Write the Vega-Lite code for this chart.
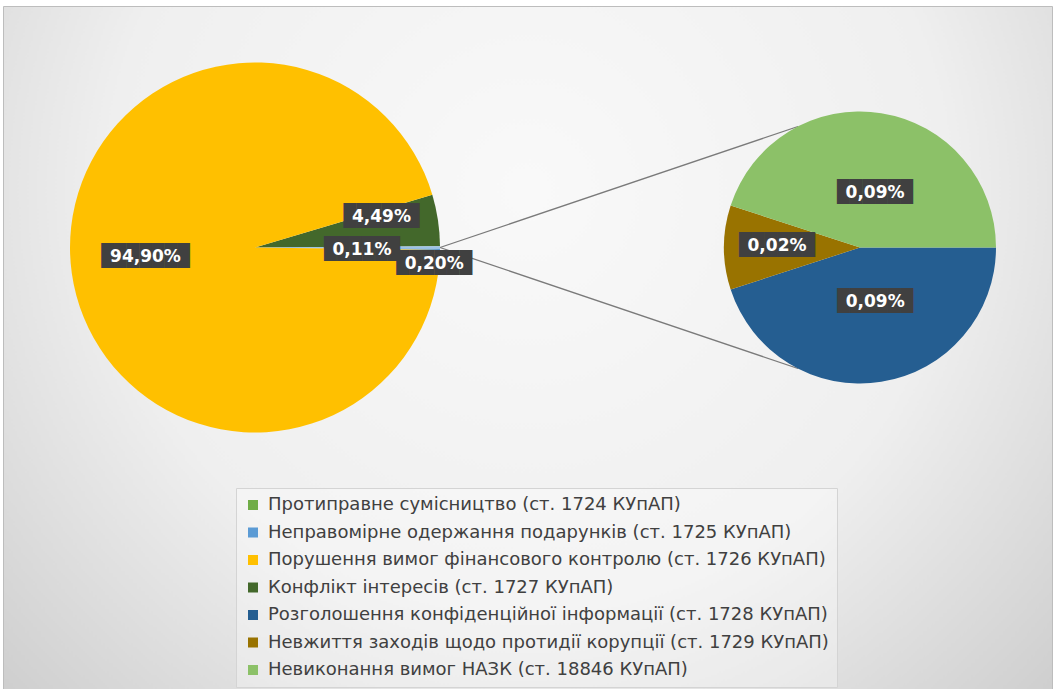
{
  "$schema": "https://vega.github.io/schema/vega-lite/v6.json",
  "width": 1049,
  "height": 683,
  "autosize": "none",
  "padding": {"left": 3, "top": 6, "right": 3, "bottom": 0},
  "background": "#ffffff",
  "config": {
    "view": {
      "fill": {"gradient": "radial", "x1": 0.5, "y1": 0.35, "r1": 0, "x2": 0.5, "y2": 0.35, "r2": 0.8,
        "stops": [{"offset": 0, "color": "#f9f9f9"}, {"offset": 0.5, "color": "#efefef"}, {"offset": 1, "color": "#c2c2c2"}]},
      "stroke": "#bdbdbd",
      "strokeWidth": 1
    }
  },
  "datasets": {
    "shares": [
      {"pie": "main", "seq": 1, "cat": "Конфлікт інтересів (ст. 1727 КУпАП)", "share": 4.49, "label": "4,49%"},
      {"pie": "main", "seq": 2, "cat": "Інші", "share": 0.20, "label": "0,20%"},
      {"pie": "main", "seq": 3, "cat": "Протиправне сумісництво (ст. 1724 КУпАП)", "share": 0, "label": ""},
      {"pie": "main", "seq": 4, "cat": "Неправомірне одержання подарунків (ст. 1725 КУпАП)", "share": 0.11, "label": "0,11%"},
      {"pie": "main", "seq": 5, "cat": "Порушення вимог фінансового контролю (ст. 1726 КУпАП)", "share": 94.90, "label": "94,90%"},
      {"pie": "sub", "seq": 1, "cat": "Розголошення конфіденційної інформації (ст. 1728 КУпАП)", "share": 0.09, "label": "0,09%"},
      {"pie": "sub", "seq": 2, "cat": "Невжиття заходів щодо протидії корупції (ст. 1729 КУпАП)", "share": 0.02, "label": "0,02%"},
      {"pie": "sub", "seq": 3, "cat": "Невиконання вимог НАЗК (ст. 18846 КУпАП)", "share": 0.09, "label": "0,09%"}
    ],
    "connectors": [{"from": "main", "to": "sub", "edge": "top"}, {"from": "main", "to": "sub", "edge": "bottom"}]
  },
  "resolve": {"scale": {"theta": "independent"}},
  "layer": [
    {
      "data": {"name": "connectors"},
      "transform": [{"filter": "datum.edge == 'top'"}],
      "mark": {"type": "rule", "color": "#7a7a7a", "strokeWidth": 1.3, "xOffset": 185, "x2Offset": -62, "y2Offset": -121},
      "encoding": {
        "x": {"field": "from", "type": "nominal", "scale": {"type": "point", "domain": ["main", "sub"], "range": [252, 857], "padding": 0}, "axis": null},
        "x2": {"field": "to"},
        "y": {"field": "from", "type": "nominal", "scale": {"type": "point", "domain": ["main", "sub"], "range": [241.5, 241.5], "padding": 0}, "axis": null},
        "y2": {"field": "to"}
      }
    },
    {
      "data": {"name": "connectors"},
      "transform": [{"filter": "datum.edge == 'bottom'"}],
      "mark": {"type": "rule", "color": "#7a7a7a", "strokeWidth": 1.3, "xOffset": 185, "x2Offset": -62, "y2Offset": 121},
      "encoding": {
        "x": {"field": "from", "type": "nominal", "scale": {"type": "point", "domain": ["main", "sub"], "range": [252, 857], "padding": 0}, "axis": null},
        "x2": {"field": "to"},
        "y": {"field": "from", "type": "nominal", "scale": {"type": "point", "domain": ["main", "sub"], "range": [241.5, 241.5], "padding": 0}, "axis": null},
        "y2": {"field": "to"}
      }
    },
    {
      "data": {"name": "shares"},
      "transform": [{"filter": "datum.pie == 'main'"}],
      "encoding": {
        "x": {"field": "pie", "type": "nominal", "scale": {"type": "point", "domain": ["main", "sub"], "range": [252, 857], "padding": 0}, "axis": null},
        "y": {"field": "pie", "type": "nominal", "scale": {"type": "point", "domain": ["main", "sub"], "range": [241.5, 241.5], "padding": 0}, "axis": null},
        "theta": {"field": "share", "type": "quantitative", "stack": true, "scale": {"domain": [0, 99.7], "range": [1.28153, 7.56472], "zero": true, "nice": false}},
        "order": {"field": "seq", "type": "quantitative"}
      },
      "layer": [
        {
          "mark": {"type": "arc", "outerRadius": 185},
          "encoding": {
            "color": {"field": "cat", "type": "nominal",
              "scale": {"domain": ["Протиправне сумісництво (ст. 1724 КУпАП)", "Неправомірне одержання подарунків (ст. 1725 КУпАП)", "Порушення вимог фінансового контролю (ст. 1726 КУпАП)", "Конфлікт інтересів (ст. 1727 КУпАП)", "Розголошення конфіденційної інформації (ст. 1728 КУпАП)", "Невжиття заходів щодо протидії корупції (ст. 1729 КУпАП)", "Невиконання вимог НАЗК (ст. 18846 КУпАП)", "Інші"],
                "range": ["#70AD47", "#5B9BD5", "#FFC000", "#43682B", "#255E91", "#997300", "#8CC168", "#9DC3E6"]},
              "legend": {"title": null, "orient": "none", "legendX": 233, "legendY": 482, "direction": "vertical",
                "values": ["Протиправне сумісництво (ст. 1724 КУпАП)", "Неправомірне одержання подарунків (ст. 1725 КУпАП)", "Порушення вимог фінансового контролю (ст. 1726 КУпАП)", "Конфлікт інтересів (ст. 1727 КУпАП)", "Розголошення конфіденційної інформації (ст. 1728 КУпАП)", "Невжиття заходів щодо протидії корупції (ст. 1729 КУпАП)", "Невиконання вимог НАЗК (ст. 18846 КУпАП)"],
                "symbolType": "square", "symbolSize": 100, "symbolStrokeWidth": 0, "labelFont": "DejaVu Sans", "labelFontSize": 18, "labelColor": "#404040", "labelLimit": 800, "labelOffset": 6, "rowPadding": 9.5, "padding": 8, "fillColor": "rgba(255,255,255,0.3)", "strokeColor": "#d4d4d4"}}
          }
        },
        {"mark": {"type": "text", "radius": 130, "thetaOffset": -0.086, "font": "DejaVu Sans Mono", "fontSize": 21, "color": "#404040", "align": "center", "baseline": "middle"},
         "encoding": {"detail": {"field": "cat", "type": "nominal"}, "text": {"condition": {"test": "datum.seq == 1", "value": "██████"}, "value": ""}}},
        {"mark": {"type": "text", "radius": 130, "thetaOffset": -0.086, "font": "DejaVu Sans", "fontWeight": "bold", "fontSize": 17, "color": "#ffffff", "align": "center", "baseline": "middle"},
         "encoding": {"detail": {"field": "cat", "type": "nominal"}, "text": {"condition": {"test": "datum.seq == 1", "field": "label"}, "value": ""}}},
        {"mark": {"type": "text", "radius": 107, "thetaOffset": 0.009, "font": "DejaVu Sans Mono", "fontSize": 21, "color": "#404040", "align": "center", "baseline": "middle"},
         "encoding": {"detail": {"field": "cat", "type": "nominal"}, "text": {"condition": {"test": "datum.seq == 4", "value": "██████"}, "value": ""}}},
        {"mark": {"type": "text", "radius": 107, "thetaOffset": 0.009, "font": "DejaVu Sans", "fontWeight": "bold", "fontSize": 17, "color": "#ffffff", "align": "center", "baseline": "middle"},
         "encoding": {"detail": {"field": "cat", "type": "nominal"}, "text": {"condition": {"test": "datum.seq == 4", "field": "label"}, "value": ""}}},
        {"mark": {"type": "text", "radius": 180, "thetaOffset": 0.094, "font": "DejaVu Sans Mono", "fontSize": 21, "color": "#404040", "align": "center", "baseline": "middle"},
         "encoding": {"detail": {"field": "cat", "type": "nominal"}, "text": {"condition": {"test": "datum.seq == 2", "value": "██████"}, "value": ""}}},
        {"mark": {"type": "text", "radius": 180, "thetaOffset": 0.094, "font": "DejaVu Sans", "fontWeight": "bold", "fontSize": 17, "color": "#ffffff", "align": "center", "baseline": "middle"},
         "encoding": {"detail": {"field": "cat", "type": "nominal"}, "text": {"condition": {"test": "datum.seq == 2", "field": "label"}, "value": ""}}},
        {"mark": {"type": "text", "radius": 110, "thetaOffset": 0.047, "font": "DejaVu Sans Mono", "fontSize": 21, "color": "#404040", "align": "center", "baseline": "middle"},
         "encoding": {"detail": {"field": "cat", "type": "nominal"}, "text": {"condition": {"test": "datum.seq == 5", "value": "███████"}, "value": ""}}},
        {"mark": {"type": "text", "radius": 110, "thetaOffset": 0.047, "font": "DejaVu Sans", "fontWeight": "bold", "fontSize": 17, "color": "#ffffff", "align": "center", "baseline": "middle"},
         "encoding": {"detail": {"field": "cat", "type": "nominal"}, "text": {"condition": {"test": "datum.seq == 5", "field": "label"}, "value": ""}}}
      ]
    },
    {
      "data": {"name": "shares"},
      "transform": [{"filter": "datum.pie == 'sub'"}],
      "encoding": {
        "x": {"field": "pie", "type": "nominal", "scale": {"type": "point", "domain": ["main", "sub"], "range": [252, 857], "padding": 0}, "axis": null},
        "y": {"field": "pie", "type": "nominal", "scale": {"type": "point", "domain": ["main", "sub"], "range": [241.5, 241.5], "padding": 0}, "axis": null},
        "theta": {"field": "share", "type": "quantitative", "stack": true, "scale": {"domain": [0, 0.2], "range": [1.5708, 7.85398], "zero": true, "nice": false}},
        "order": {"field": "seq", "type": "quantitative"}
      },
      "layer": [
        {
          "mark": {"type": "arc", "outerRadius": 136},
          "encoding": {
            "color": {"field": "cat", "type": "nominal",
              "scale": {"domain": ["Протиправне сумісництво (ст. 1724 КУпАП)", "Неправомірне одержання подарунків (ст. 1725 КУпАП)", "Порушення вимог фінансового контролю (ст. 1726 КУпАП)", "Конфлікт інтересів (ст. 1727 КУпАП)", "Розголошення конфіденційної інформації (ст. 1728 КУпАП)", "Невжиття заходів щодо протидії корупції (ст. 1729 КУпАП)", "Невиконання вимог НАЗК (ст. 18846 КУпАП)", "Інші"],
                "range": ["#70AD47", "#5B9BD5", "#FFC000", "#43682B", "#255E91", "#997300", "#8CC168", "#9DC3E6"]}}
          }
        },
        {"mark": {"type": "text", "radius": 57, "thetaOffset": -0.113, "font": "DejaVu Sans Mono", "fontSize": 21, "color": "#404040", "align": "center", "baseline": "middle"},
         "encoding": {"detail": {"field": "cat", "type": "nominal"}, "text": {"condition": {"test": "datum.seq == 1", "value": "██████"}, "value": ""}}},
        {"mark": {"type": "text", "radius": 57, "thetaOffset": -0.113, "font": "DejaVu Sans", "fontWeight": "bold", "fontSize": 17, "color": "#ffffff", "align": "center", "baseline": "middle"},
         "encoding": {"detail": {"field": "cat", "type": "nominal"}, "text": {"condition": {"test": "datum.seq == 1", "field": "label"}, "value": ""}}},
        {"mark": {"type": "text", "radius": 83, "thetaOffset": 0.024, "font": "DejaVu Sans Mono", "fontSize": 21, "color": "#404040", "align": "center", "baseline": "middle"},
         "encoding": {"detail": {"field": "cat", "type": "nominal"}, "text": {"condition": {"test": "datum.seq == 2", "value": "██████"}, "value": ""}}},
        {"mark": {"type": "text", "radius": 83, "thetaOffset": 0.024, "font": "DejaVu Sans", "fontWeight": "bold", "fontSize": 17, "color": "#ffffff", "align": "center", "baseline": "middle"},
         "encoding": {"detail": {"field": "cat", "type": "nominal"}, "text": {"condition": {"test": "datum.seq == 2", "field": "label"}, "value": ""}}},
        {"mark": {"type": "text", "radius": 57, "thetaOffset": 0.11, "font": "DejaVu Sans Mono", "fontSize": 21, "color": "#404040", "align": "center", "baseline": "middle"},
         "encoding": {"detail": {"field": "cat", "type": "nominal"}, "text": {"condition": {"test": "datum.seq == 3", "value": "██████"}, "value": ""}}},
        {"mark": {"type": "text", "radius": 57, "thetaOffset": 0.11, "font": "DejaVu Sans", "fontWeight": "bold", "fontSize": 17, "color": "#ffffff", "align": "center", "baseline": "middle"},
         "encoding": {"detail": {"field": "cat", "type": "nominal"}, "text": {"condition": {"test": "datum.seq == 3", "field": "label"}, "value": ""}}}
      ]
    }
  ]
}
